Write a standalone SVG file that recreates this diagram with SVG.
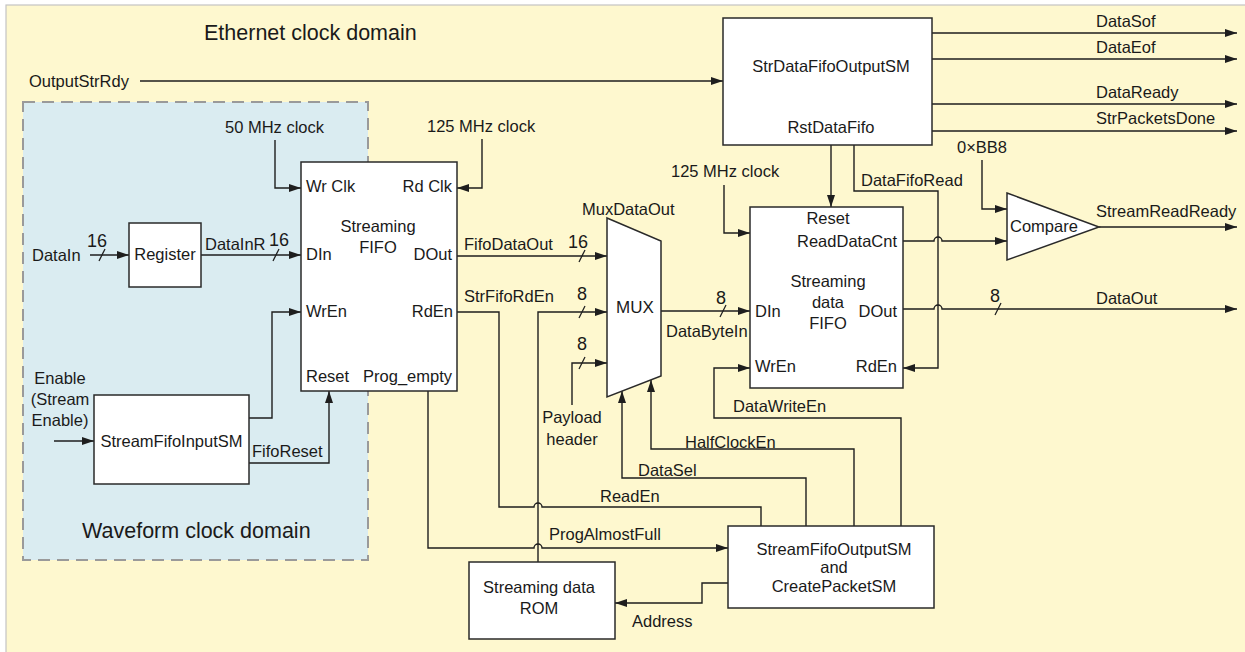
<svg xmlns="http://www.w3.org/2000/svg" width="1245" height="652" viewBox="0 0 1245 652">
  <style>
    text { font-family: "Liberation Sans", Arial, sans-serif; font-size: 16.5px; fill: #1a1a1a; }
    .title { font-size: 21.5px; }
    .mid { text-anchor: middle; }
    .end { text-anchor: end; }
    .box { fill: #ffffff; stroke: #2a2a2a; stroke-width: 1.5; }
    .wire { fill: none; stroke: #1e1e1e; stroke-width: 1.4; }
    .arr { marker-end: url(#arrow); }
    .slash { stroke: #1e1e1e; stroke-width: 1.3; }
    .num { font-size: 18px; }
  </style>
  <defs>
    <marker id="arrow" viewBox="0 0 12 8" refX="12" refY="4" markerWidth="12" markerHeight="8" markerUnits="userSpaceOnUse" orient="auto">
      <path d="M0,0 L12,4 L0,8 z" fill="#1e1e1e"/>
    </marker>
  </defs>

  <!-- clock domain backgrounds -->
  <rect x="0" y="0" width="1245" height="652" fill="#ffffff"/>
  <rect id="ethernet-domain" x="6" y="5" width="1245" height="660" fill="#fef8cf" stroke="#c4c4c4" stroke-width="1.2"/>
  <rect id="waveform-domain" x="23" y="102" width="345" height="458" fill="#daecf1" stroke="#9a9a9a" stroke-width="2" stroke-dasharray="12 7"/>
  <text class="title" x="204" y="40">Ethernet clock domain</text>
  <text class="title" x="82" y="538">Waveform clock domain</text>

  <!-- connectors -->
  <g id="connectors">
    <path class="wire arr" d="M140,81 H723"/>
    <path class="wire arr" d="M275,140 V188 H301"/>
    <path class="wire arr" d="M482,139 V188 H457"/>
    <path class="wire arr" d="M90,255 H129"/>
    <path class="wire arr" d="M201,255 H301"/>
    <path class="wire arr" d="M54,441 H94"/>
    <path class="wire arr" d="M249,418 H272 V312 H301"/>
    <path class="wire arr" d="M249,463 H329 V391"/>
    <path class="wire arr" d="M457,256 H607"/>
    <path class="wire" d="M457,312 H499 V507 H534 a4,4 0 0 1 8,0 H761 V526"/>
    <path class="wire arr" d="M538,562 V312 H607"/>
    <path class="wire arr" d="M572,405 V363 H607"/>
    <path class="wire arr" d="M428,391 V548 H534 a4,4 0 0 1 8,0 H728"/>
    <path class="wire arr" d="M806,526 V478 H622 V391"/>
    <path class="wire arr" d="M854,526 V449 H651 V380"/>
    <path class="wire arr" d="M901,526 V418 H714 V368 H750"/>
    <path class="wire arr" d="M728,583 H702 V603 H615"/>
    <path class="wire arr" d="M661,311 H750"/>
    <path class="wire arr" d="M724,185 V233 H750"/>
    <path class="wire arr" d="M831,145 V207"/>
    <path class="wire arr" d="M854,145 V191 H938 V368 H903"/>
    <path class="wire arr" d="M903,241 H934 a4,4 0 0 1 8,0 H1007"/>
    <path class="wire arr" d="M903,309 H934 a4,4 0 0 1 8,0 H1237"/>
    <path class="wire arr" d="M982,160 V209 H1007"/>
    <path class="wire arr" d="M1099,227 H1237"/>
    <path class="wire arr" d="M932,33 H1237"/>
    <path class="wire arr" d="M932,59 H1237"/>
    <path class="wire arr" d="M932,104 H1237"/>
    <path class="wire arr" d="M932,131 H1237"/>
    <!-- bus width marks -->
    <line class="slash" x1="99" y1="261" x2="105" y2="249"/>
    <line class="slash" x1="273" y1="261" x2="279" y2="249"/>
    <line class="slash" x1="579" y1="262" x2="585" y2="250"/>
    <line class="slash" x1="579" y1="318" x2="585" y2="306"/>
    <line class="slash" x1="579" y1="369" x2="585" y2="357"/>
    <line class="slash" x1="720" y1="317" x2="726" y2="305"/>
    <line class="slash" x1="995" y1="315" x2="1001" y2="303"/>
  </g>

  <!-- connector labels -->
  <g id="labels">
    <text x="29" y="87">OutputStrRdy</text>
    <text x="225" y="133">50 MHz clock</text>
    <text x="427" y="132">125 MHz clock</text>
    <text x="32" y="261">DataIn</text>
    <text class="num mid" x="97" y="247">16</text>
    <text x="205" y="250">DataInR</text>
    <text class="num mid" x="279" y="246">16</text>
    <text class="mid" x="60" y="384">Enable</text>
    <text class="mid" x="60" y="405">(Stream</text>
    <text class="mid" x="60" y="426">Enable)</text>
    <text x="252" y="457">FifoReset</text>
    <text x="464" y="250">FifoDataOut</text>
    <text class="num mid" x="578" y="248">16</text>
    <text x="464" y="302">StrFifoRdEn</text>
    <text x="582" y="215">MuxDataOut</text>
    <text class="num mid" x="582" y="300">8</text>
    <text class="num mid" x="582" y="350">8</text>
    <text class="mid" x="572" y="423">Payload</text>
    <text class="mid" x="572" y="445">header</text>
    <text class="num mid" x="721" y="304">8</text>
    <text x="666" y="337">DataByteIn</text>
    <text x="671" y="177">125 MHz clock</text>
    <text x="733" y="412">DataWriteEn</text>
    <text x="685" y="448">HalfClockEn</text>
    <text x="638" y="476">DataSel</text>
    <text x="600" y="502">ReadEn</text>
    <text x="549" y="540">ProgAlmostFull</text>
    <text x="632" y="627">Address</text>
    <text x="1096" y="27">DataSof</text>
    <text x="1096" y="53">DataEof</text>
    <text x="1096" y="98">DataReady</text>
    <text x="1096" y="124">StrPacketsDone</text>
    <text x="957" y="153">0×BB8</text>
    <text x="861" y="186">DataFifoRead</text>
    <text x="1096" y="217">StreamReadReady</text>
    <text class="num mid" x="995" y="302">8</text>
    <text x="1096" y="304">DataOut</text>
  </g>

  <!-- blocks -->
  <g id="register">
    <rect class="box" x="129" y="223" width="72" height="64"/>
    <text class="mid" x="165" y="260">Register</text>
  </g>
  <g id="stream-fifo-input-sm">
    <rect class="box" x="94" y="395" width="155" height="89"/>
    <text class="mid" x="171.5" y="447">StreamFifoInputSM</text>
  </g>
  <g id="streaming-fifo">
    <rect class="box" x="301" y="162" width="156" height="229"/>
    <text x="306" y="192">Wr Clk</text>
    <text class="end" x="452" y="192">Rd Clk</text>
    <text class="mid" x="378" y="232">Streaming</text>
    <text class="mid" x="378" y="253">FIFO</text>
    <text x="306" y="260">DIn</text>
    <text class="end" x="452" y="260">DOut</text>
    <text x="306" y="317">WrEn</text>
    <text class="end" x="453" y="317">RdEn</text>
    <text x="306" y="382">Reset</text>
    <text class="end" x="452" y="382">Prog_empty</text>
  </g>
  <g id="mux">
    <polygon class="box" points="607,218 661,241 661,376 607,397"/>
    <text class="mid" x="635" y="313" style="font-size:17px">MUX</text>
  </g>
  <g id="streaming-data-rom">
    <rect class="box" x="469" y="562" width="146" height="77"/>
    <text class="mid" x="539" y="593">Streaming data</text>
    <text class="mid" x="539" y="614">ROM</text>
  </g>
  <g id="stream-fifo-output-sm">
    <rect class="box" x="728" y="526" width="206" height="82"/>
    <text class="mid" x="834" y="555">StreamFifoOutputSM</text>
    <text class="mid" x="834" y="573">and</text>
    <text class="mid" x="834" y="592">CreatePacketSM</text>
  </g>
  <g id="streaming-data-fifo">
    <rect class="box" x="750" y="207" width="153" height="181"/>
    <text class="mid" x="828" y="224">Reset</text>
    <text class="end" x="897" y="247">ReadDataCnt</text>
    <text class="mid" x="828" y="287">Streaming</text>
    <text class="mid" x="828" y="308">data</text>
    <text class="mid" x="828" y="329">FIFO</text>
    <text x="755" y="317">DIn</text>
    <text class="end" x="897" y="317">DOut</text>
    <text x="755" y="372">WrEn</text>
    <text class="end" x="897" y="372">RdEn</text>
  </g>
  <g id="str-data-fifo-output-sm">
    <rect class="box" x="723" y="18" width="209" height="127"/>
    <text class="mid" x="831" y="72">StrDataFifoOutputSM</text>
    <text class="mid" x="831" y="133">RstDataFifo</text>
  </g>
  <g id="compare">
    <polygon class="box" points="1007,193 1099,227 1007,260"/>
    <text x="1010" y="232">Compare</text>
  </g>
</svg>
